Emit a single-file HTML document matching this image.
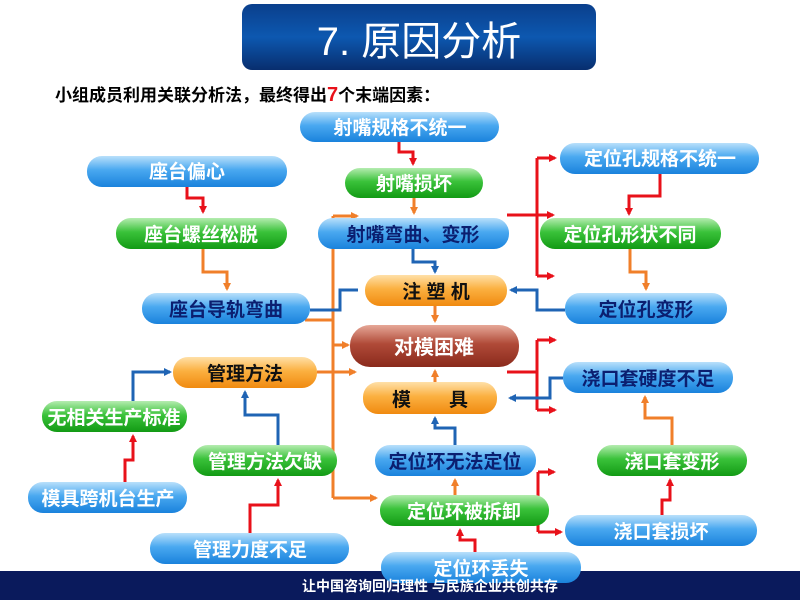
<!DOCTYPE html>
<html><head><meta charset="utf-8"><style>
body{margin:0;width:800px;height:600px;overflow:hidden;background:#fff}
text{font-family:"Liberation Sans","Noto Sans CJK SC",sans-serif;font-weight:bold}
</style></head><body>
<svg width="800" height="600" viewBox="0 0 800 600" xmlns="http://www.w3.org/2000/svg">
<defs>
<linearGradient id="t" x1="0" y1="0" x2="0" y2="1"><stop offset="0" stop-color="#0a3f8c"/><stop offset="0.5" stop-color="#0d58b0"/><stop offset="1" stop-color="#082e6e"/></linearGradient>
<linearGradient id="b" x1="0" y1="0" x2="0" y2="1"><stop offset="0" stop-color="#b9e0fb"/><stop offset="0.45" stop-color="#49a8f0"/><stop offset="1" stop-color="#1a82dc"/></linearGradient>
<linearGradient id="g" x1="0" y1="0" x2="0" y2="1"><stop offset="0" stop-color="#b5ecb0"/><stop offset="0.45" stop-color="#3ac23a"/><stop offset="1" stop-color="#129a14"/></linearGradient>
<linearGradient id="o" x1="0" y1="0" x2="0" y2="1"><stop offset="0" stop-color="#ffe0a8"/><stop offset="0.45" stop-color="#fbb040"/><stop offset="1" stop-color="#f08a10"/></linearGradient>
<linearGradient id="r" x1="0" y1="0" x2="0" y2="1"><stop offset="0" stop-color="#e6a898"/><stop offset="0.45" stop-color="#b04a38"/><stop offset="1" stop-color="#8a2a1c"/></linearGradient>
<marker id="aR" markerWidth="8" markerHeight="8" refX="6" refY="4" orient="auto" markerUnits="userSpaceOnUse"><path d="M0,0 L8,4 L0,8z" fill="#e8111a"/></marker>
<marker id="aO" markerWidth="8" markerHeight="8" refX="6" refY="4" orient="auto" markerUnits="userSpaceOnUse"><path d="M0,0 L8,4 L0,8z" fill="#f07f2a"/></marker>
<marker id="aB" markerWidth="8" markerHeight="8" refX="6" refY="4" orient="auto" markerUnits="userSpaceOnUse"><path d="M0,0 L8,4 L0,8z" fill="#1f64b4"/></marker>
</defs>
<rect x="242" y="4" width="354" height="66" rx="10" fill="url(#t)"/>
<text x="419" y="55" font-size="40" fill="#fff" style="font-weight:normal" text-anchor="middle">7. 原因分析</text>
<text x="55" y="101" font-size="17" fill="#000">小组成员利用关联分析法，最终得出<tspan fill="#e8111a" font-size="20">7</tspan>个末端因素：</text>

<g fill="none" stroke-width="3">
<g stroke="#e8111a">
<polyline points="187,187 187,198 203,198 203,212" marker-end="url(#aR)"/>
<polyline points="399,142 399,152 413,152 413,164" marker-end="url(#aR)"/>
<polyline points="507,215 553,215" marker-end="url(#aR)"/>
<polyline points="537,158 537,276"/>
<polyline points="537,158 555,158" marker-end="url(#aR)"/>
<polyline points="537,276 553,276" marker-end="url(#aR)"/>
<polyline points="660,174 660,196 629,196 629,214" marker-end="url(#aR)"/>
<polyline points="507,372 537,372"/>
<polyline points="537,340 537,410"/>
<polyline points="537,340 555,340" marker-end="url(#aR)"/>
<polyline points="537,410 555,410" marker-end="url(#aR)"/>
<polyline points="510,497 538,497"/>
<polyline points="538,472 538,532"/>
<polyline points="538,472 554,472" marker-end="url(#aR)"/>
<polyline points="538,532 561,532" marker-end="url(#aR)"/>
<polyline points="475,552 475,540 460,540 460,530" marker-end="url(#aR)"/>
<polyline points="662,515 662,500 670,500 670,480" marker-end="url(#aR)"/>
<polyline points="125,482 125,460 133,460 133,436" marker-end="url(#aR)"/>
<polyline points="250,533 250,505 278,505 278,480" marker-end="url(#aR)"/>
</g>
<g stroke="#f07f2a">
<polyline points="203,249 203,272 227,272 227,289" marker-end="url(#aO)"/>
<polyline points="414,198 414,213" marker-end="url(#aO)"/>
<polyline points="435,306 435,321" marker-end="url(#aO)"/>
<polyline points="630,249 630,272 646,272 646,289" marker-end="url(#aO)"/>
<polyline points="333,216 333,498"/>
<polyline points="333,216 357,216" marker-end="url(#aO)"/>
<polyline points="333,345 348,345" marker-end="url(#aO)"/>
<polyline points="333,498 376,498" marker-end="url(#aO)"/>
<polyline points="305,320 333,320"/>
<polyline points="317,372 355,372" marker-end="url(#aO)"/>
<polyline points="435,382 435,371" marker-end="url(#aO)"/>
<polyline points="455,495 455,480" marker-end="url(#aO)"/>
<polyline points="672,445 672,418 645,418 645,397" marker-end="url(#aO)"/>
</g>
<g stroke="#1f64b4">
<polyline points="413,249 413,262 435,262 435,272" marker-end="url(#aB)"/>
<polyline points="310,310 340,310 340,290 358,290"/>
<polyline points="565,310 537,310 537,290 511,290" marker-end="url(#aB)"/>
<polyline points="563,378 550,378 550,398 510,398" marker-end="url(#aB)"/>
<polyline points="455,445 455,428 435,428 435,418" marker-end="url(#aB)"/>
<polyline points="133,401 133,372 170,372" marker-end="url(#aB)"/>
<polyline points="278,445 278,415 245,415 245,392" marker-end="url(#aB)"/>
</g>
</g>

<g font-size="19" text-anchor="middle">
<rect x="300" y="112" width="199" height="30" rx="15" fill="url(#b)"/><text x="400" y="134" fill="#fff">射嘴规格不统一</text>
<rect x="87" y="156" width="200" height="31" rx="15" fill="url(#b)"/><text x="187" y="178" fill="#fff">座台偏心</text>
<rect x="345" y="168" width="138" height="30" rx="15" fill="url(#g)"/><text x="414" y="190" fill="#fff">射嘴损坏</text>
<rect x="560" y="143" width="199" height="31" rx="15" fill="url(#b)"/><text x="660" y="165" fill="#fff">定位孔规格不统一</text>
<rect x="116" y="218" width="171" height="31" rx="15" fill="url(#g)"/><text x="201" y="241" fill="#fff">座台螺丝松脱</text>
<rect x="318" y="218" width="191" height="31" rx="15" fill="url(#b)"/><text x="413" y="241" fill="#0b1f70">射嘴弯曲、变形</text>
<rect x="540" y="218" width="181" height="31" rx="15" fill="url(#g)"/><text x="630" y="241" fill="#fff">定位孔形状不同</text>
<rect x="365" y="275" width="142" height="31" rx="15" fill="url(#o)"/><text x="436" y="298" fill="#111">注 塑 机</text>
<rect x="142" y="293" width="168" height="31" rx="15" fill="url(#b)"/><text x="226" y="316" fill="#0b1f70">座台导轨弯曲</text>
<rect x="565" y="293" width="162" height="31" rx="15" fill="url(#b)"/><text x="646" y="316" fill="#0b1f70">定位孔变形</text>
<rect x="350" y="325" width="169" height="42" rx="20" fill="url(#r)"/><text x="434" y="354" fill="#fff" font-size="20">对模困难</text>
<rect x="173" y="357" width="144" height="31" rx="15" fill="url(#o)"/><text x="245" y="380" fill="#111">管理方法</text>
<rect x="563" y="362" width="170" height="31" rx="15" fill="url(#b)"/><text x="648" y="385" fill="#0b1f70">浇口套硬度不足</text>
<rect x="363" y="382" width="134" height="32" rx="15" fill="url(#o)"/><text x="430" y="406" fill="#111">模　　具</text>
<rect x="42" y="401" width="145" height="31" rx="15" fill="url(#g)"/><text x="114" y="424" fill="#fff">无相关生产标准</text>
<rect x="193" y="445" width="144" height="31" rx="15" fill="url(#g)"/><text x="265" y="468" fill="#fff">管理方法欠缺</text>
<rect x="375" y="445" width="161" height="31" rx="15" fill="url(#b)"/><text x="455" y="468" fill="#0b1f70">定位环无法定位</text>
<rect x="597" y="445" width="150" height="31" rx="15" fill="url(#g)"/><text x="672" y="468" fill="#fff">浇口套变形</text>
<rect x="28" y="482" width="159" height="31" rx="15" fill="url(#b)"/><text x="108" y="505" fill="#fff">模具跨机台生产</text>
<rect x="380" y="495" width="169" height="31" rx="15" fill="url(#g)"/><text x="464" y="518" fill="#fff">定位环被拆卸</text>
<rect x="565" y="515" width="192" height="31" rx="15" fill="url(#b)"/><text x="661" y="538" fill="#fff">浇口套损坏</text>
<rect x="150" y="533" width="199" height="31" rx="15" fill="url(#b)"/><text x="250" y="556" fill="#fff">管理力度不足</text>
</g>
<rect x="0" y="571" width="800" height="29" fill="#0a1a5c"/>
<rect x="381" y="552" width="200" height="31" rx="15" fill="url(#b)"/><text x="481" y="575" font-size="19" text-anchor="middle" fill="#fff">定位环丢失</text>
<text x="430" y="591" font-size="14" text-anchor="middle" fill="#fff">让中国咨询回归理性 与民族企业共创共存</text>
</svg>
</body></html>
